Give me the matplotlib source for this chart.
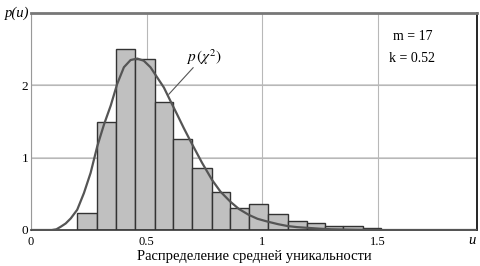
import numpy as np
import matplotlib
matplotlib.use('Agg')
import matplotlib.pyplot as plt

plt.rcParams['font.family'] = ['Liberation Serif', 'DejaVu Serif']
plt.rcParams['mathtext.fontset'] = 'stix'

# histogram of mean uniqueness
bin_edges = [0.198, 0.287, 0.367, 0.451, 0.536, 0.615, 0.697, 0.784, 0.863,
             0.942, 1.025, 1.11, 1.196, 1.272, 1.351, 1.435, 1.515]
bin_heights = [0.23, 1.50, 2.50, 2.37, 1.77, 1.26, 0.86, 0.52, 0.30,
               0.36, 0.22, 0.12, 0.09, 0.05, 0.05, 0.03]

# fitted chi-square density
curve_u = [0.0, 0.09, 0.11, 0.129, 0.15, 0.172, 0.20, 0.229, 0.258, 0.287,
           0.316, 0.345, 0.373, 0.402, 0.431, 0.46, 0.488, 0.517, 0.546,
           0.575, 0.604, 0.632, 0.661, 0.69, 0.74, 0.784, 0.82, 0.863,
           0.90, 0.942, 0.98, 1.025, 1.07, 1.11, 1.15, 1.196, 1.25, 1.30,
           1.4, 1.5, 1.93]
curve_p = [0.0, 0.0, 0.01, 0.046, 0.09, 0.16, 0.28, 0.51, 0.79, 1.16,
           1.46, 1.72, 2.02, 2.25, 2.35, 2.37, 2.34, 2.25, 2.11,
           1.97, 1.78, 1.60, 1.41, 1.23, 0.93, 0.69, 0.53, 0.39,
           0.29, 0.21, 0.155, 0.115, 0.08, 0.055, 0.04, 0.03, 0.018, 0.01,
           0.004, 0.0, 0.0]

x_ticks = [0, 0.5, 1, 1.5]
x_ticklabels = ['0', '0.5', '1', '1.5']
y_ticks = [0, 1, 2]

fig = plt.figure(figsize=(4.81, 2.66), dpi=100)
ax = fig.add_axes([31/481, 36/266, 446/481, 217/266])

widths = np.diff(bin_edges)
ax.bar(bin_edges[:-1], bin_heights, width=widths, align='edge',
       color='#c0c0c0', edgecolor='#333333', linewidth=1.0, zorder=2)
ax.plot(curve_u, curve_p, color='#555555', lw=1.6, zorder=3,
        solid_joinstyle='round')

ax.set_xlim(0, 1.93)
ax.set_ylim(0, 3.0)
ax.set_xticks(x_ticks)
ax.set_xticklabels(x_ticklabels, fontsize=9)
ax.set_yticks(y_ticks)
ax.set_yticklabels([str(v) for v in y_ticks], fontsize=9.5)
ax.tick_params(axis='x', length=0, pad=4)
ax.tick_params(axis='y', length=0, pad=2)
ax.grid(True, color='#b8b8b8', lw=0.8, zorder=0)
for y in [1, 2]:
    ax.axhline(y, color='#cccccc', lw=1.2, zorder=0)

ax.spines['top'].set_color('#777777')
ax.spines['top'].set_linewidth(2)
ax.spines['left'].set_color('#999999')
ax.spines['left'].set_linewidth(0.8)
ax.spines['right'].set_color('black')
ax.spines['right'].set_linewidth(1.2)
ax.spines['bottom'].set_color('#333333')
ax.spines['bottom'].set_linewidth(1.2)

ax.set_xlabel('Распределение средней уникальности', fontsize=10.5, labelpad=2)
fig.text(5/481, 1 - 13/266, 'p(u)', fontsize=10.5, style='italic',
         va='center', ha='left')
fig.text(472/481, 1 - 240/266, 'u', fontsize=10.5, style='italic',
         va='center', ha='center')

ax.text(0.855, 0.89, 'm = 17', transform=ax.transAxes, fontsize=10,
        ha='center', va='center')
ax.text(0.855, 0.79, 'k = 0.52', transform=ax.transAxes, fontsize=10,
        ha='center', va='center')

ax.annotate('', xy=(0.596, 1.875), xytext=(0.702, 2.245),
            arrowprops=dict(arrowstyle='-', color='#555555', lw=0.8,
                            shrinkA=0, shrinkB=0))
ax.text(0.75, 2.39, r'$p\,(\chi^2)$', fontsize=11, ha='center', va='center')

fig.savefig('out.png', dpi=100)
